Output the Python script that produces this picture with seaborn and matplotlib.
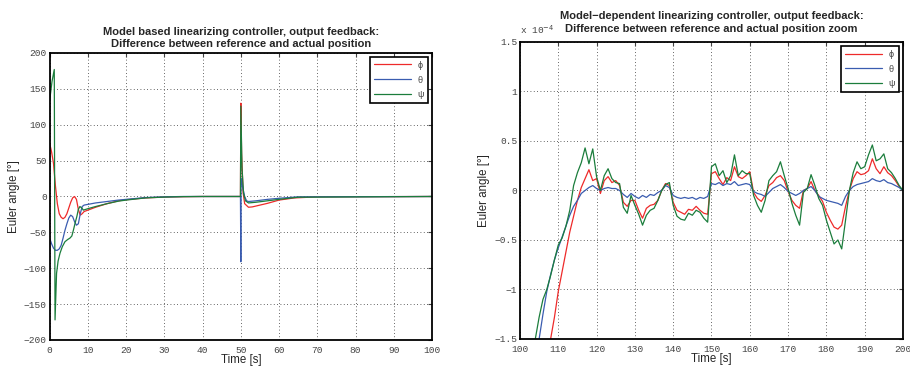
import numpy as np
import pandas as pd
import matplotlib
matplotlib.use("Agg")
import matplotlib.pyplot as plt
import seaborn as sns
from matplotlib.ticker import FuncFormatter

# ---------------- data: left panel (full run) ----------------
t_phi_full = [0, 0.5, 1, 1.5, 2, 2.5, 3, 3.5, 4, 4.5, 5, 5.5, 6, 6.5, 7, 7.5, 8, 8.5, 9, 10,
              12, 15, 18, 20, 25, 30, 35, 40, 49.9, 50.0, 50.2, 50.6, 51, 52, 53, 55, 57, 60,
              64, 70, 100]
phi_full = [74, 62, 46, 15, -10, -24, -29, -31, -29, -24, -16, -8, -2, 0, -4, -18, -26, -24, -21, -19,
            -15, -10, -6, -4.5, -2, -0.8, -0.3, 0, 0, 130, 60, 5, -10, -15, -14.5, -12, -9.5, -5,
            -2, -0.5, 0]

t_theta_full = [0, 0.5, 1, 1.5, 2, 2.5, 3, 3.5, 4, 4.5, 5, 5.5, 6, 6.5, 7, 7.5, 8, 8.5, 9, 10,
                12, 15, 18, 20, 25, 30, 35, 40, 49.9, 50.0, 50.05, 50.3, 50.6, 51, 51.5, 52, 54, 57,
                60, 65, 100]
theta_full = [-58, -66, -72, -75, -75, -73, -68, -58, -47, -38, -30, -26, -28, -35, -40, -38, -24, -14, -12, -11,
              -9, -7, -5, -4, -1.5, -0.5, 0, 0, 0, -91, 25, 18, 10, 0, -6, -7, -6, -4,
              -2.5, -0.5, 0]

t_psi_full = [0, 0.6, 1.2, 1.4, 1.8, 2.2, 2.7, 3.3, 4, 4.7, 5.3, 5.8, 6.2, 6.7, 7.1, 7.5, 7.9, 8.4, 8.8, 10,
              12, 15, 18, 20, 25, 30, 35, 40, 49.9, 50.0, 50.3, 50.7, 51.2, 52, 54, 57, 60, 65, 100]
psi_full = [134, 160, 177, -172, -107, -90, -79, -70, -63, -60, -58, -55, -47, -36, -28, -18, -14, -16, -19, -17,
            -14, -10, -6.5, -5, -2, -0.8, -0.2, 0, 0, 126, 40, 5, -6, -9, -8, -6, -4, -1, 0]

# ---------------- data: right panel (zoom, units of 1e-4) ----------------
t_zoom = list(range(100, 201))
phi_zoom = [-3.2, -3.0, -2.8, -2.6, -2.4, -2.2, -1.95, -1.75, -1.5, -1.28,
            -1.02, -0.82, -0.62, -0.42, -0.26, -0.1, 0.03, 0.12, 0.21, 0.1,
            0.12, -0.03, 0.1, 0.14, 0.08, 0.1, 0.05, -0.12, -0.16, -0.1,
            -0.1, -0.2, -0.28, -0.18, -0.15, -0.14, -0.1, 0.0, 0.07, 0.05,
            -0.12, -0.2, -0.22, -0.24, -0.19, -0.2, -0.16, -0.2, -0.23, -0.24,
            0.17, 0.19, 0.12, 0.06, 0.13, 0.1, 0.24, 0.14, 0.12, 0.15,
            0.19, -0.02, -0.08, -0.11, -0.05, 0.05, 0.08, 0.13, 0.15, 0.1,
            -0.01, -0.1, -0.15, -0.18, 0.0, 0.02, 0.09, 0.0, -0.05, -0.11,
            -0.22, -0.3, -0.37, -0.39, -0.35, -0.16, 0.0, 0.12, 0.19, 0.16,
            0.17, 0.2, 0.32, 0.22, 0.17, 0.24, 0.18, 0.15, 0.1, 0.04,
            0.0]
theta_zoom = [-2.6, -2.4, -2.2, -1.95, -1.72, -1.5, -1.25, -1.02, -0.85, -0.7,
              -0.58, -0.47, -0.36, -0.25, -0.16, -0.1, -0.03, 0.0, 0.03, 0.05,
              0.02, 0.0, 0.02, 0.03, 0.02, 0.02, 0.0, -0.04, -0.07, -0.03,
              -0.06, -0.08, -0.05, -0.07, -0.04, -0.05, -0.02, 0.0, 0.05, 0.03,
              -0.05, -0.07, -0.08, -0.07, -0.08, -0.07, -0.09, -0.07, -0.08, -0.06,
              0.07, 0.06, 0.08, 0.05, 0.07, 0.06, 0.09, 0.05, 0.06, 0.07,
              0.06, -0.01, -0.03, -0.04, -0.06, -0.02, 0.02, 0.04, 0.06, 0.03,
              -0.01, -0.03, -0.05, -0.03, 0.0, 0.02, 0.04, 0.0, -0.06, -0.08,
              -0.1, -0.11, -0.12, -0.13, -0.15, -0.06, 0.0, 0.04, 0.06, 0.07,
              0.08, 0.09, 0.12, 0.1, 0.09, 0.11, 0.08, 0.07, 0.05, 0.03,
              0.0]
psi_zoom = [-2.4, -2.2, -1.95, -1.75, -1.5, -1.28, -1.1, -1.0, -0.86, -0.7,
            -0.55, -0.48, -0.36, -0.2, 0.05, 0.18, 0.28, 0.43, 0.27, 0.42,
            0.14, 0.0, 0.15, 0.22, 0.12, 0.08, 0.07, -0.17, -0.23, -0.05,
            -0.15, -0.24, -0.35, -0.25, -0.2, -0.18, -0.1, 0.0, 0.06, 0.08,
            -0.15, -0.26, -0.29, -0.3, -0.23, -0.25, -0.2, -0.22, -0.28, -0.32,
            0.24, 0.27, 0.15, 0.2, 0.08, 0.15, 0.36, 0.15, 0.2, 0.17,
            0.17, -0.05, -0.15, -0.22, -0.1, 0.1, 0.15, 0.19, 0.29, 0.15,
            0.02, -0.13, -0.25, -0.35, -0.02, 0.02, 0.16, 0.05, -0.08, -0.15,
            -0.3, -0.42, -0.54, -0.5, -0.59, -0.3, 0.0, 0.18, 0.29, 0.22,
            0.24, 0.36, 0.46, 0.3, 0.32, 0.37, 0.22, 0.18, 0.12, 0.05,
            0.0]

labels = ["\u03d5", "\u03b8", "\u03c8"]
colors = ["#ee2a2a", "#3a5cb0", "#1b7d3c"]

x_ticks_full = list(range(0, 101, 10))
y_ticks_full = list(range(-200, 201, 50))
x_ticks_zoom = list(range(100, 201, 10))
y_ticks_zoom = [-1.5, -1, -0.5, 0, 0.5, 1, 1.5]

# ---------------- style ----------------
sns.set_theme(style="white")
plt.rcParams["font.family"] = ["Liberation Sans", "DejaVu Sans"]
plt.rcParams["axes.unicode_minus"] = True

fig = plt.figure(figsize=(9.1, 3.7), dpi=100)
ax1 = fig.add_axes([0.0546, 0.0811, 0.4201, 0.7757])
ax2 = fig.add_axes([0.5714, 0.0838, 0.4209, 0.8027])

full_sets = [(t_phi_full, phi_full), (t_theta_full, theta_full), (t_psi_full, psi_full)]
zoom_sets = [(t_zoom, phi_zoom), (t_zoom, theta_zoom), (t_zoom, psi_zoom)]

for (tt, vv), lab, col in zip(full_sets, labels, colors):
    df = pd.DataFrame({"t": tt, "v": vv})
    sns.lineplot(data=df, x="t", y="v", ax=ax1, color=col, label=lab,
                 estimator=None, sort=False, linewidth=0.9)

for (tt, vv), lab, col in zip(zoom_sets, labels, colors):
    df = pd.DataFrame({"t": tt, "v": vv})
    sns.lineplot(data=df, x="t", y="v", ax=ax2, color=col, label=lab,
                 estimator=None, sort=False, linewidth=0.9)

fmt = FuncFormatter(lambda v, p: ("%g" % v).replace("-", "\u2212"))

def style_axes(ax, xt, yt, xlim, ylim):
    ax.set_xlim(*xlim)
    ax.set_ylim(*ylim)
    ax.set_xticks(xt)
    ax.set_yticks(yt)
    ax.xaxis.set_major_formatter(fmt)
    ax.yaxis.set_major_formatter(fmt)
    ax.grid(True, linestyle=(0, (1, 3)), color="#333333", linewidth=0.6)
    for s in ax.spines.values():
        s.set_color("black")
        s.set_linewidth(1.3)
        s.set_visible(True)
    ax.tick_params(direction="in", top=True, right=True, length=3, width=0.8,
                   labelsize=6.8, labelcolor="#444444", pad=2, colors="#444444")
    ax.tick_params(axis="x", pad=4.5)
    for lbl in ax.get_xticklabels() + ax.get_yticklabels():
        lbl.set_family(["Liberation Mono", "DejaVu Sans Mono"])
    ax.set_xlabel("Time [s]", fontsize=8.3, labelpad=-1)
    ax.set_ylabel("Euler angle [\u00b0]", fontsize=8.3, labelpad=3)
    leg = ax.legend(loc="upper right", fontsize=6.5, frameon=True, fancybox=False,
                    edgecolor="black", handlelength=4.0, borderaxespad=0.4,
                    labelspacing=0.65, borderpad=0.45)
    leg.get_frame().set_linewidth(1.2)
    leg.get_frame().set_facecolor("white")
    leg.get_frame().set_alpha(1)
    for txt in leg.get_texts():
        txt.set_color("#444444")

style_axes(ax1, x_ticks_full, y_ticks_full, (0, 100), (-200, 200))
style_axes(ax2, x_ticks_zoom, y_ticks_zoom, (100, 200), (-1.5, 1.5))

ax1.set_title("Model based linearizing controller, output feedback:\n"
              "Difference between reference and actual position",
              fontsize=8, fontweight="bold", pad=4, linespacing=1.35)
ax2.set_title("Model\u2212dependent linearizing controller, output feedback:\n"
              "Difference between reference and actual position zoom",
              fontsize=8, fontweight="bold", pad=7, linespacing=1.35)
ax2.text(0.0, 1.02, "x 10$^{-4}$", transform=ax2.transAxes, fontsize=6.8,
         color="#444444", family=["Liberation Mono", "DejaVu Sans Mono"],
         ha="left", va="bottom")

fig.savefig("out.png", dpi=100)
